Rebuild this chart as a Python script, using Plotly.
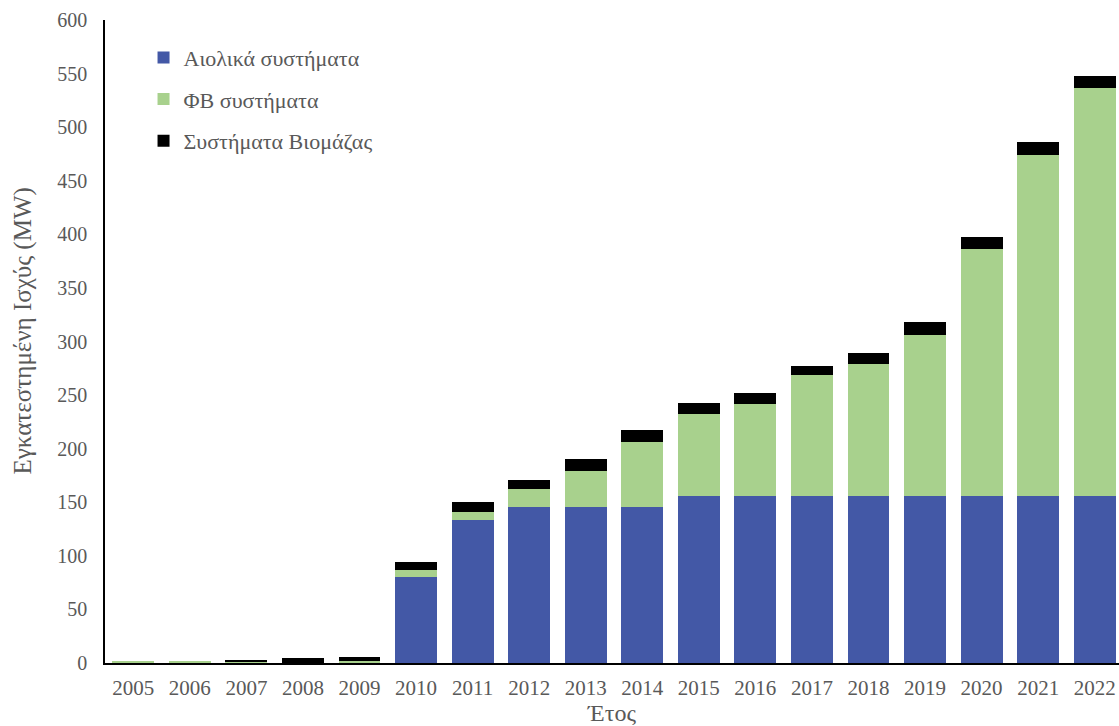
import plotly.graph_objects as go

years = ["2005", "2006", "2007", "2008", "2009", "2010", "2011", "2012", "2013",
         "2014", "2015", "2016", "2017", "2018", "2019", "2020", "2021", "2022"]
wind = [0, 0, 0, 0, 0, 80.5, 133, 146, 146, 146, 156, 156, 156, 156, 156, 156, 156, 156]
pv = [1, 1, 0.5, 0.3, 1.5, 6.3, 8.2, 16, 33.4, 60.5, 76.3, 85.4, 112.7, 123, 150, 230, 318, 380.2]
bio = [0, 0, 2.5, 4.5, 4.5, 7.7, 9.3, 8.8, 10.6, 10.9, 10.6, 10.2, 8.7, 10.5, 11.9, 11.8, 11.8, 11.8]

names = ["Αιολικά συστήματα", "ΦΒ συστήματα", "Συστήματα Βιομάζας"]
colors = ["#4358A6", "#A8D18D", "#000000"]

font = "Liberation Serif"
grey = "#595959"

fig = go.Figure()
for i, (vals, nm, col) in enumerate(zip([wind, pv, bio], names, colors)):
    fig.add_trace(go.Bar(x=years, y=vals, name=nm, marker_color=col,
                         marker_line_width=0, legendgroup=str(i)))

fig.update_layout(
    barmode="stack",
    bargap=0.26,
    width=1119, height=726,
    margin=dict(l=105, r=0, t=20, b=63),
    plot_bgcolor="white", paper_bgcolor="white",
    font=dict(family=font, size=20, color=grey),
    showlegend=True,
    legend=dict(x=0.038, y=0.974, xanchor="left", yanchor="top",
                traceorder="grouped", tracegroupgap=10,
                font=dict(family=font, size=22, color=grey),
                bgcolor="rgba(0,0,0,0)", itemwidth=30),
    xaxis=dict(showline=True, linecolor="black", linewidth=1.5, ticks="",
               showgrid=False, ticklabelstandoff=5, automargin=False,
               range=[-0.5, 17.43],
               tickfont=dict(size=21),
               title=dict(text="Έτος", font=dict(size=24, color=grey), standoff=0)),
    yaxis=dict(range=[0, 600], dtick=50, showline=True, linecolor="black",
               linewidth=1.5, ticks="", showgrid=False, zeroline=False,
               ticklabelstandoff=12, tickfont=dict(size=20), automargin=False),
    annotations=[dict(text="Εγκατεστημένη Ισχύς (MW)", textangle=-90,
                      xref="paper", yref="paper", x=-0.0809, y=0.517,
                      xanchor="center", yanchor="middle", showarrow=False,
                      font=dict(family=font, size=25, color=grey))],
)

fig.write_html("out.html", config={"displayModeBar": False},
               post_script="document.body.style.margin='0';document.body.style.overflow='hidden';")
